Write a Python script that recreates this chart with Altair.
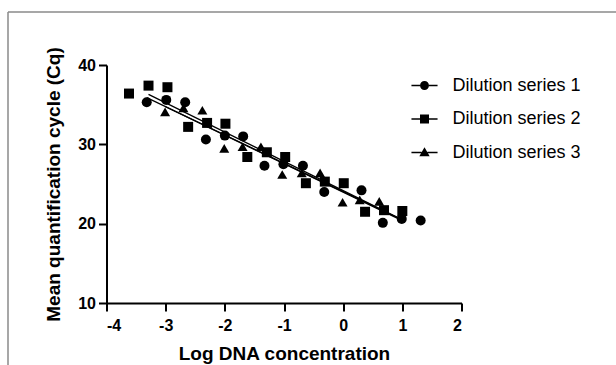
import altair as alt
import pandas as pd

# Series 1 (circles)
x1 = [-3.32, -2.99, -2.67, -2.32, -2.00, -1.69, -1.33, -1.01, -0.68, -0.32, 0.31, 0.67, 0.99, 1.31]
y1 = [35.3, 35.6, 35.3, 30.6, 31.1, 31.0, 27.3, 27.5, 27.3, 24.0, 24.2, 20.1, 20.6, 20.4]
# Series 2 (squares)
x2 = [-3.62, -3.29, -2.97, -2.62, -2.30, -1.99, -1.62, -1.29, -0.98, -0.63, -0.31, 0.01, 0.37, 0.69, 1.00]
y2 = [36.4, 37.4, 37.2, 32.2, 32.7, 32.6, 28.4, 29.0, 28.4, 25.1, 25.3, 25.1, 21.5, 21.7, 21.6]
# Series 3 (triangles)
x3 = [-3.01, -2.70, -2.38, -2.01, -1.70, -1.39, -1.03, -0.70, -0.39, -0.01, 0.28, 0.61]
y3 = [34.1, 34.6, 34.3, 29.5, 29.7, 29.7, 26.2, 26.4, 26.4, 22.7, 23.0, 22.8]

series_names = ["Dilution series 1", "Dilution series 2", "Dilution series 3"]
fit_extents = [[-3.32, 1.0], [-3.29, 1.0], [-3.01, 1.0]]

x_ticks = [-4, -3, -2, -1, 0, 1, 2]
y_ticks = [10, 20, 30, 40]

rows = []
for name, xs, ys in zip(series_names, [x1, x2, x3], [y1, y2, y3]):
    for a, b in zip(xs, ys):
        rows.append({"series": name, "logc": a, "cq": b})
df = pd.DataFrame(rows)

FONT = "Liberation Sans"

xenc = alt.X("logc:Q", scale=alt.Scale(domain=[-4, 2], nice=False, zero=False),
             axis=alt.Axis(values=x_ticks, title="Log DNA concentration",
                           labelExpr="'' + datum.value"))
yenc = alt.Y("cq:Q", scale=alt.Scale(domain=[10, 40], nice=False, zero=False),
             axis=alt.Axis(values=y_ticks, title="Mean quantification cycle (Cq)"))

base = alt.Chart(df)

points = base.mark_point(filled=True, color="black", opacity=1, size=100).encode(
    x=xenc, y=yenc,
    shape=alt.Shape("series:N",
                    scale=alt.Scale(domain=series_names, range=["circle", "square", "triangle-up"]),
                    legend=None),
)

circ = "M1,0A1,1,0,1,1,-1,0A1,1,0,1,1,1,0Z"
sq = "M-1,-1H1V1H-1Z"
tri = "M0,-1.15L1.15,0.85H-1.15Z"
def with_line(p, inner):
    return (p + " M-2.9,-0.17H-%sV0.17H-2.9Z M%s,-0.17H2.9V0.17H%sZ" % (inner, inner, inner))

legend_layer = base.mark_point(filled=True, color="black", opacity=0).encode(
    x=xenc, y=yenc,
    shape=alt.Shape("series:N",
                    scale=alt.Scale(domain=series_names,
                                    range=[with_line(circ, "1"), with_line(sq, "1"), with_line(tri, "0.66")]),
                    legend=alt.Legend(title=None, orient="none", legendX=309, legendY=11.5,
                                      labelFont=FONT, labelFontSize=18, labelColor="black",
                                      labelOffset=19, symbolSize=81, rowPadding=15.5,
                                      symbolStrokeWidth=0, symbolFillColor="black",
                                      symbolOpacity=1, padding=0)),
)

fits = []
for name, ext in zip(series_names, fit_extents):
    fits.append(
        base.transform_filter(alt.datum.series == name)
        .transform_regression("logc", "cq", extent=ext)
        .mark_line(color="black", strokeWidth=1.3)
        .encode(x="logc:Q", y="cq:Q")
    )

frame_data = alt.Data(values=[{"k": 1}])
frame_top = alt.Chart(frame_data).mark_rule(color="#8a8a8a", strokeWidth=1.5).encode(
    x=alt.value(-98.5), x2=alt.value(520), y=alt.value(-53))
frame_left = alt.Chart(frame_data).mark_rule(color="#8a8a8a", strokeWidth=1.5).encode(
    x=alt.value(-98.5), y=alt.value(-53), y2=alt.value(310))

chart = alt.layer(frame_top, frame_left, *fits, points, legend_layer).resolve_scale(
    shape="independent"
).properties(
    width=355, height=238,
    autosize=alt.AutoSizeParams(type="none"),
    padding={"left": 106.5, "top": 65, "right": 154.5, "bottom": 62},
).configure_view(stroke=None).configure_axis(
    grid=False, domainColor="black", domainWidth=2, tickColor="black", tickWidth=2,
    tickSize=8, labelFont=FONT, labelFontSize=16, labelFontWeight="bold", labelColor="black",
    titleFont=FONT, titleFontSize=19, titleFontWeight="bold", titleColor="black",
).configure_axisX(labelPadding=6, titlePadding=11).configure_axisY(labelPadding=3, titlePadding=14)

chart.save("out.html", embed_options={"renderer": "svg", "actions": False})
